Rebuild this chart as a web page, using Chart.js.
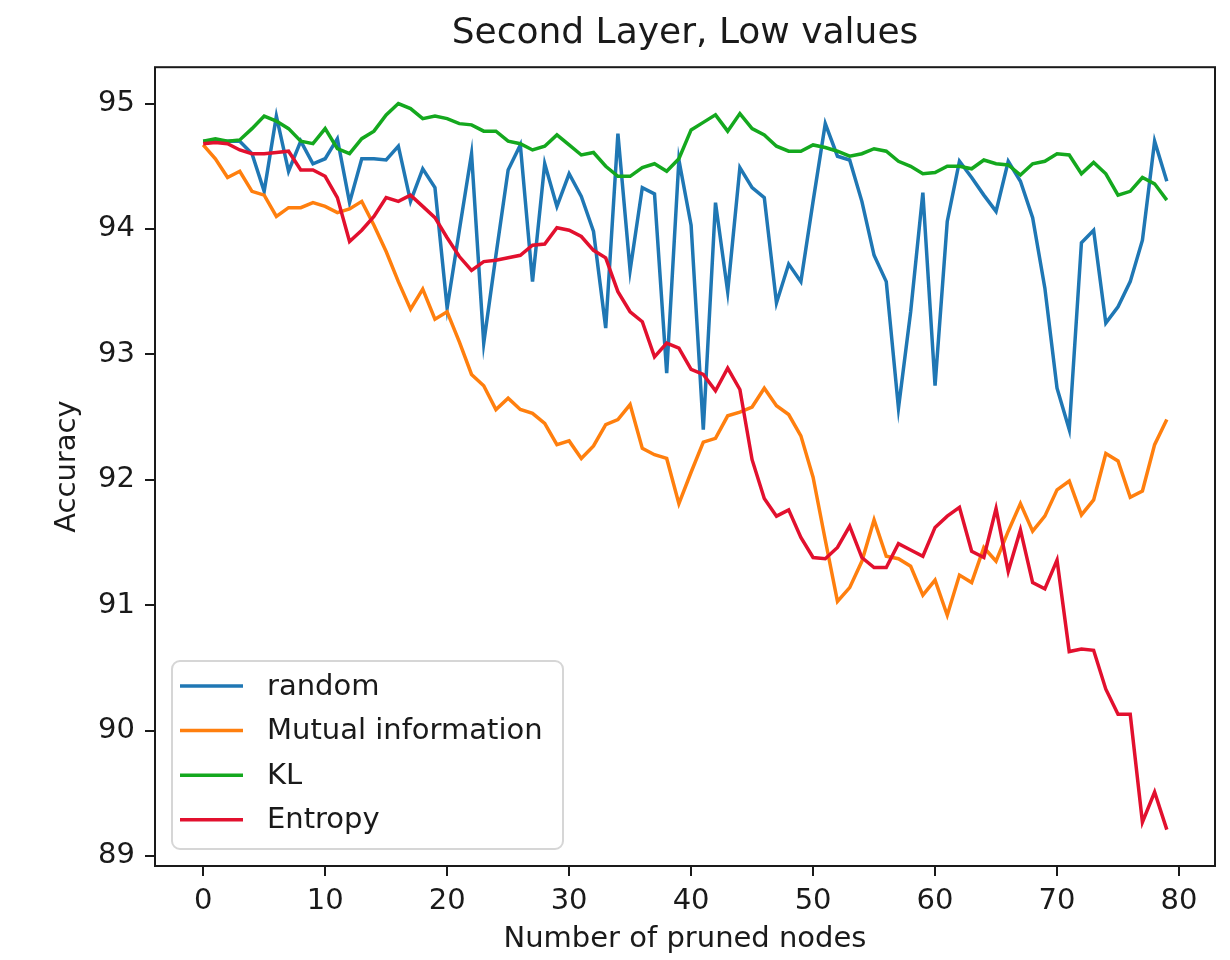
<!DOCTYPE html>
<html>
<head>
<meta charset="utf-8">
<script src="https://cdn.jsdelivr.net/npm/chart.js@4.4.0/dist/chart.umd.min.js"></script>
<style>
  html, body { margin: 0; padding: 0; background: #fff; }
  #wrap { width: 1230px; height: 960px; }
</style>
</head>
<body>
<div id="wrap"><canvas id="chart" width="1230" height="960"></canvas></div>
<script>
// number of pruned nodes (x)
const nodes = [
  0, 1, 2, 3, 4, 5, 6, 7, 8, 9, 10, 11, 12, 13, 14, 15, 16, 17, 18, 19,
  20, 21, 22, 23, 24, 25, 26, 27, 28, 29, 30, 31, 32, 33, 34, 35, 36, 37, 38, 39,
  40, 41, 42, 43, 44, 45, 46, 47, 48, 49, 50, 51, 52, 53, 54, 55, 56, 57, 58, 59,
  60, 61, 62, 63, 64, 65, 66, 67, 68, 69, 70, 71, 72, 73, 74, 75, 76, 77, 78, 79
];

const randomAcc = [
  94.70, 94.70, 94.70, 94.70, 94.60, 94.30, 94.90, 94.46, 94.70, 94.52,
  94.56, 94.72, 94.21, 94.56, 94.56, 94.55, 94.66, 94.22, 94.48, 94.33,
  93.37, 93.99, 94.60, 93.09, 93.79, 94.47, 94.67, 93.58, 94.52, 94.18,
  94.44, 94.26, 93.98, 93.21, 94.76, 93.67, 94.33, 94.28, 92.85, 94.55,
  94.03, 92.40, 94.21, 93.50, 94.49, 94.33, 94.25, 93.41, 93.72, 93.58,
  94.22, 94.84, 94.58, 94.55, 94.22, 93.79, 93.58, 92.57, 93.34, 94.29,
  92.75, 94.06, 94.54, 94.41, 94.27, 94.14, 94.54, 94.38, 94.09, 93.53,
  92.73, 92.40, 93.89, 93.99, 93.25, 93.38, 93.58, 93.91, 94.70, 94.38
];

const mutualInfoAcc = [
  94.67, 94.56, 94.41, 94.46, 94.30, 94.27, 94.10, 94.17, 94.17, 94.21,
  94.18, 94.13, 94.16, 94.22, 94.03, 93.82, 93.58, 93.36, 93.52, 93.28,
  93.34, 93.10, 92.84, 92.75, 92.56, 92.65, 92.56, 92.53, 92.45, 92.28,
  92.31, 92.17, 92.27, 92.44, 92.48, 92.60, 92.25, 92.20, 92.17, 91.81,
  92.06, 92.30, 92.33, 92.51, 92.54, 92.58, 92.73, 92.59, 92.52, 92.35,
  92.02, 91.52, 91.03, 91.14, 91.35, 91.68, 91.39, 91.37, 91.31, 91.08,
  91.20, 90.92, 91.24, 91.18, 91.46, 91.35, 91.59, 91.81, 91.59, 91.71,
  91.92, 91.99, 91.72, 91.84, 92.21, 92.15, 91.86, 91.91, 92.28, 92.48
];

const klAcc = [
  94.70, 94.72, 94.70, 94.71, 94.80, 94.90, 94.86, 94.80, 94.70, 94.68,
  94.80, 94.64, 94.60, 94.72, 94.78, 94.91, 95.00, 94.96, 94.88, 94.90,
  94.88, 94.84, 94.83, 94.78, 94.78, 94.70, 94.68, 94.63, 94.66, 94.75,
  94.67, 94.59, 94.61, 94.50, 94.42, 94.42, 94.49, 94.52, 94.46, 94.56,
  94.79, 94.85, 94.91, 94.78, 94.92, 94.80, 94.75, 94.66, 94.62, 94.62,
  94.67, 94.65, 94.62, 94.58, 94.60, 94.64, 94.62, 94.54, 94.50, 94.44,
  94.45, 94.50, 94.50, 94.48, 94.55, 94.52, 94.51, 94.43, 94.52, 94.54,
  94.60, 94.59, 94.44, 94.53, 94.44, 94.27, 94.30, 94.41, 94.36, 94.23
];

const entropyAcc = [
  94.68, 94.69, 94.68, 94.63, 94.60, 94.60, 94.61, 94.62, 94.47, 94.47,
  94.42, 94.25, 93.90, 93.99, 94.10, 94.25, 94.22, 94.27, 94.18, 94.09,
  93.93, 93.78, 93.67, 93.74, 93.75, 93.77, 93.79, 93.87, 93.88, 94.01,
  93.99, 93.94, 93.83, 93.77, 93.50, 93.34, 93.26, 92.98, 93.09, 93.05,
  92.88, 92.84, 92.71, 92.89, 92.72, 92.16, 91.85, 91.71, 91.76, 91.54,
  91.38, 91.37, 91.46, 91.63, 91.38, 91.30, 91.30, 91.49, 91.44, 91.39,
  91.62, 91.71, 91.78, 91.43, 91.38, 91.77, 91.27, 91.60, 91.18, 91.13,
  91.36, 90.63, 90.65, 90.64, 90.33, 90.13, 90.13, 89.27, 89.51, 89.21
];

const xTicks = [0, 10, 20, 30, 40, 50, 60, 70, 80];
const yTicks = [89, 90, 91, 92, 93, 94, 95];

const FONT = "'DejaVu Sans', 'Liberation Sans', sans-serif";
const INK = "#1a1a1a";

function points(values) {
  return nodes.map((n, i) => ({ x: n, y: values[i] }));
}

// spines on all four sides + matplotlib-style legend in the lower left
const frameAndLegend = {
  id: "frameAndLegend",
  afterDraw(chart) {
    const { ctx, chartArea: ca } = chart;
    ctx.save();
    ctx.strokeStyle = INK;
    ctx.lineWidth = 2;
    ctx.strokeRect(ca.left, ca.top, ca.right - ca.left, ca.bottom - ca.top);

    const bw = 391, bh = 188;
    const bx = ca.left + 17, by = ca.bottom - 17 - bh;
    ctx.beginPath();
    ctx.roundRect(bx, by, bw, bh, 8);
    ctx.fillStyle = "rgba(255,255,255,0.8)";
    ctx.fill();
    ctx.strokeStyle = "#d6d6d6";
    ctx.lineWidth = 2;
    ctx.stroke();

    ctx.font = "29px " + FONT;
    ctx.textBaseline = "middle";
    chart.data.datasets.forEach((ds, i) => {
      const y = by + 25 + i * 44.6;
      ctx.strokeStyle = ds.borderColor;
      ctx.lineWidth = 3.5;
      ctx.beginPath();
      ctx.moveTo(bx + 8, y);
      ctx.lineTo(bx + 71, y);
      ctx.stroke();
      ctx.fillStyle = INK;
      ctx.fillText(ds.label, bx + 95, y + 1);
    });
    ctx.restore();
  }
};

const lineStyle = { borderWidth: 3.5, pointRadius: 0, tension: 0, fill: false };

new Chart(document.getElementById("chart"), {
  type: "line",
  data: {
    datasets: [
      { label: "random", data: points(randomAcc), borderColor: "#1f77b4", order: 3, ...lineStyle },
      { label: "Mutual information", data: points(mutualInfoAcc), borderColor: "#ff7f0e", order: 2, ...lineStyle },
      { label: "KL", data: points(klAcc), borderColor: "#14a81e", order: 1, ...lineStyle },
      { label: "Entropy", data: points(entropyAcc), borderColor: "#e2102e", order: 0, ...lineStyle }
    ]
  },
  options: {
    responsive: false,
    animation: false,
    events: [],
    layout: { padding: { left: 0, right: 15, top: 0, bottom: 0 } },
    plugins: {
      legend: { display: false },
      tooltip: { enabled: false },
      title: {
        display: true,
        text: "Second Layer, Low values",
        fullSize: false,
        color: INK,
        font: { family: FONT, size: 36, weight: "normal" },
        padding: { top: 12, bottom: 12 }
      }
    },
    scales: {
      x: {
        type: "linear",
        min: -3.95,
        max: 82.95,
        afterBuildTicks: s => { s.ticks = xTicks.map(v => ({ value: v })); },
        afterFit: s => { s.height = 94; },
        border: { display: false },
        grid: { drawOnChartArea: false, drawTicks: true, tickLength: 10, color: INK, lineWidth: 2 },
        ticks: {
          autoSkip: false, maxRotation: 0, padding: 8, color: INK,
          font: { family: FONT, size: 29 },
          callback: v => String(v)
        },
        title: {
          display: true, text: "Number of pruned nodes", color: INK,
          font: { family: FONT, size: 29 }, padding: { top: 0, bottom: 3 }
        }
      },
      y: {
        type: "linear",
        min: 88.92,
        max: 95.29,
        afterBuildTicks: s => { s.ticks = yTicks.map(v => ({ value: v })); },
        afterFit: s => { s.width = 155; },
        border: { display: false },
        grid: { drawOnChartArea: false, drawTicks: true, tickLength: 10, color: INK, lineWidth: 2 },
        ticks: {
          autoSkip: false, padding: 10, color: INK,
          font: { family: FONT, size: 29 },
          callback: v => String(v)
        },
        title: {
          display: true, text: "Accuracy", color: INK,
          font: { family: FONT, size: 29 }, padding: { top: 50, bottom: 0 }
        }
      }
    }
  },
  plugins: [frameAndLegend]
});
</script>
</body>
</html>
